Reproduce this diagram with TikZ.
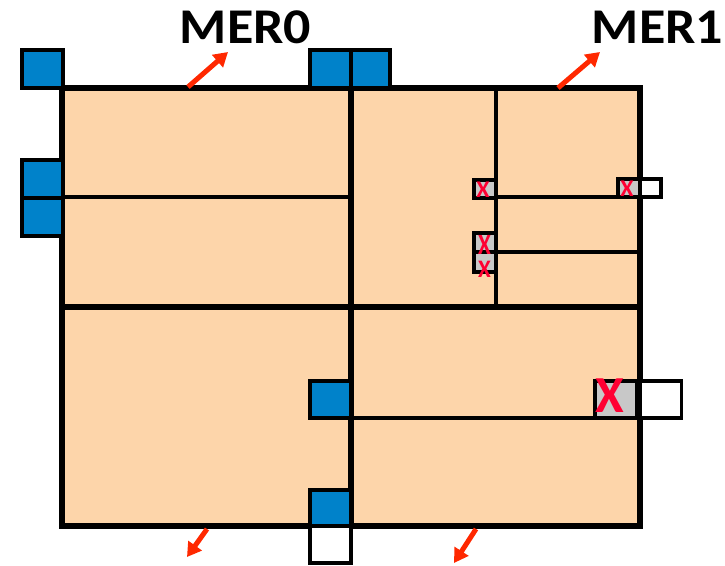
\documentclass[tikz,border=0pt]{standalone}
\usepackage{fontspec}
\usepackage{graphicx}
\setmainfont{Carlito}
\usetikzlibrary{arrows.meta}
\definecolor{peach}{RGB}{253,213,170}
\definecolor{bluebx}{RGB}{0,130,202}
\definecolor{graybx}{RGB}{200,200,200}
\definecolor{xred}{RGB}{255,0,51}
\definecolor{ared}{RGB}{255,40,0}
\tikzset{
  thickline/.style={line width=6pt},
  thinline/.style={line width=3.5pt},
  box/.style={draw=black, line width=3.5pt, inner sep=0pt, outer sep=0pt},
  bluebox/.style={box, fill=bluebx},
  graybox/.style={box, fill=graybx},
  whitebox/.style={box, fill=white},
  xmark/.style={inner sep=0pt, text=xred, font=\bfseries\fontsize{24}{24}\selectfont},
  xsmall/.style={xmark, font=\bfseries\fontsize{21}{21}\selectfont},
  redarrow/.style={draw=ared, line width=5pt, -{Triangle[length=14pt,width=16pt]}},
  merlabel/.style={font=\bfseries\fontsize{50}{54}\selectfont, inner sep=0pt}
}
\begin{document}
\begin{tikzpicture}[x=1pt,y=-1pt]
\useasboundingbox (0,0) rectangle (725,565);
% main area
\fill[peach] (62,88) rectangle (640,526);
\draw[thinline] (62,197) -- (351,197);
\draw[thinline] (496,88) -- (496,307);
\draw[thinline] (496,197) -- (640,197);
\draw[thinline] (496,252) -- (640,252);
\draw[thinline] (351,418) -- (640,418);
\draw[thickline] (62,88) rectangle (640,526);
\draw[thickline] (351,88) -- (351,526);
\draw[thickline] (62,307) -- (640,307);
% blue boxes
\node[bluebox, minimum width=41, minimum height=38] (b1) at (42.5,69) {};
\node[bluebox, minimum width=41, minimum height=38] (b2) at (330.5,69) {};
\node[bluebox, minimum width=39, minimum height=38] (b3) at (370.5,69) {};
\node[bluebox, minimum width=41, minimum height=38] (b4) at (42.5,179) {};
\node[bluebox, minimum width=41, minimum height=38] (b5) at (42.5,217) {};
\node[bluebox, minimum width=41, minimum height=37] (b6) at (330.5,399.5) {};
\node[bluebox, minimum width=41, minimum height=36] (b7) at (330.5,508) {};
\node[whitebox, minimum width=41, minimum height=37] (w1) at (330.5,544.5) {};
% small gray boxes
\node[graybox, minimum width=22, minimum height=18] (g1) at (485,189) {};
\node[graybox, minimum width=22, minimum height=18] (g2) at (629,188) {};
\node[whitebox, minimum width=21, minimum height=18] (w2) at (650.5,188) {};
\node[graybox, minimum width=22, minimum height=19] (g3) at (485,242.5) {};
\node[graybox, minimum width=22, minimum height=20] (g4) at (485,262) {};
% big gray box
\node[graybox, minimum width=42, minimum height=37] (g5) at (616,399.5) {};
\node[whitebox, minimum width=41, minimum height=37] (w3) at (661,399.5) {};
% X marks
\node[xmark] (x1) at (483,190) {X};
\node[xmark] (x2) at (627,188.5) {X};
\node[xsmall] (x3) at (484.5,244.5) {\scalebox{1.1}[1.4]{X}};
\node[xsmall] (x4) at (484.5,269) {\scalebox{1.1}[1.2]{X}};
\node[xmark, font=\bfseries\fontsize{52}{52}\selectfont] (x5) at (610,396) {X};
% labels
\node[merlabel, xscale=1.08, transform shape] (mer0) at (245.5,27) {MER0};
\node[merlabel, xscale=1.08, transform shape] (mer1) at (657.5,27) {MER1};
% arrows
\coordinate (a0s) at (188,87);
\coordinate (a0e) at (228,52);
\coordinate (a1s) at (558,88);
\coordinate (a1e) at (600,52);
\coordinate (a2s) at (207,529);
\coordinate (a2e) at (187,557);
\coordinate (a3s) at (476,529);
\coordinate (a3e) at (454,563);
\draw[redarrow] (a0s) -- (a0e);
\draw[redarrow] (a1s) -- (a1e);
\draw[redarrow] (a2s) -- (a2e);
\draw[redarrow] (a3s) -- (a3e);
\end{tikzpicture}
\end{document}
